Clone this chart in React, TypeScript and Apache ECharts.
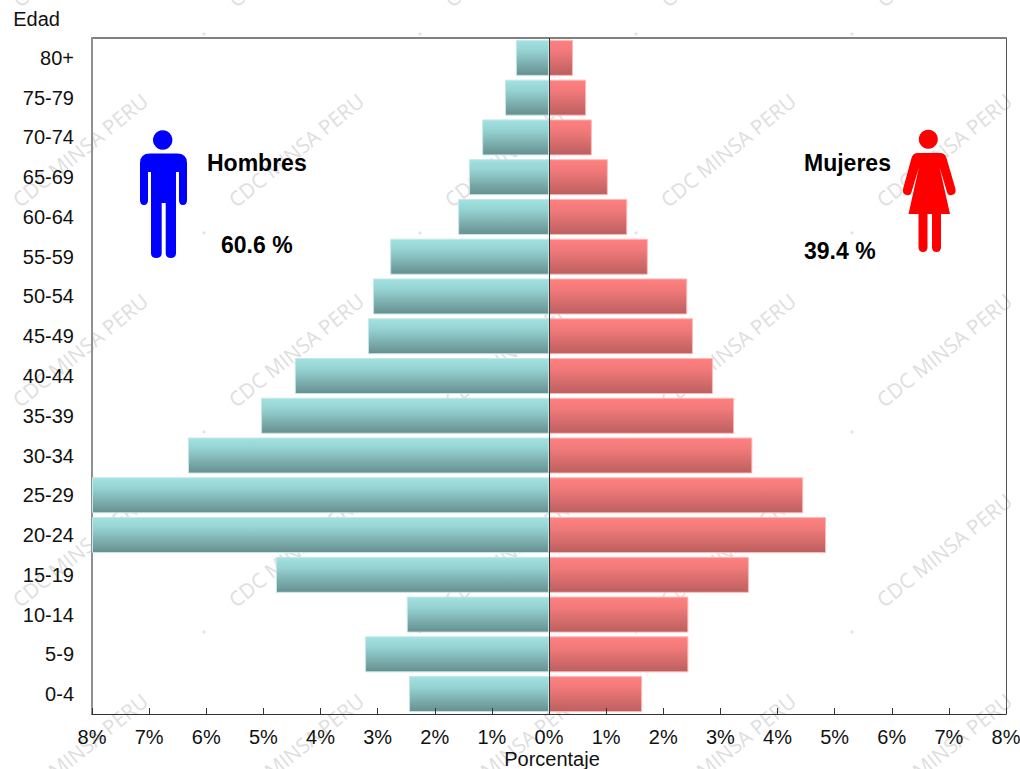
import React, { useEffect, useRef } from "react";
import * as echarts from "echarts";

const categories = ["0-4","5-9","10-14","15-19","20-24","25-29","30-34","35-39","40-44","45-49","50-54","55-59","60-64","65-69","70-74","75-79","80+"];
const hombres = [2.45,3.22,2.49,4.78,8,8,6.32,5.04,4.45,3.17,3.08,2.78,1.59,1.40,1.17,0.77,0.58];
const mujeres = [1.63,2.44,2.44,3.50,4.85,4.45,3.56,3.24,2.87,2.52,2.42,1.73,1.37,1.03,0.75,0.65,0.42];
const watermarkCols = [80,296,512,728,944];
const watermarkRows = [-50,150,350,550,750];
const dotCols = [204,420,636,852];
const dotRows = [34,233,432,632];

const maleD = "M150 153.5 L177 153.5 Q187 153.5 187 163 L187 200 Q187 205 183 205 Q179 205 179 200 L179 172 L176 172 L176 253 Q176 258 170.8 258 Q165.7 258 165.7 253 L165.7 203 L161.7 203 L161.7 253 Q161.7 258 156.2 258 Q151 258 151 253 L151 172 L148 172 L148 200 Q148 205 144 205 Q140 205 140 200 L140 163 Q140 153.5 150 153.5 Z";
const femaleD = "M918 153 L940 153 Q945 153 946.5 158 L955.5 189 Q956.5 194 952 195 Q948 196 947 192 L939.5 167 L950 214 L941 214 L941 247 Q941 252 936.5 252 Q932 252 932 247 L932 214 L927.5 214 L927.5 247 Q927.5 252 923 252 Q918.5 252 918.5 247 L918.5 214 L908.5 214 L919 167 L911.5 192 Q910.5 196 906.5 195 Q902 194 903 189 L911.5 158 Q913 153 918 153 Z";
echarts.graphic.registerShape("maleFig", echarts.graphic.extendPath(maleD, {}));
echarts.graphic.registerShape("femaleFig", echarts.graphic.extendPath(femaleD, {}));

const FONT = "Liberation Sans, Arial, sans-serif";
const grad = (a: string, m: string, b: string) => new echarts.graphic.LinearGradient(0, 0, 0, 1, [
  { offset: 0, color: a }, { offset: 0.3, color: m }, { offset: 1, color: b },
]);

const boldText = (text: string, x: number, y: number) => ({
  type: "text", x, y, z: 10,
  style: { text, font: `bold 23px ${FONT}`, fill: "#000", verticalAlign: "middle", align: "left" },
});

export default function App() {
  const ref = useRef<HTMLDivElement>(null);
  useEffect(() => {
    document.body.style.background = "#fff";
    const chart = echarts.init(ref.current!, undefined, { renderer: "svg" });
    const marks: any[] = [];
    watermarkCols.forEach((x) => watermarkRows.forEach((y) => marks.push({
      type: "text", x, y, rotation: 0.68, z: -1, silent: true,
      style: { text: "CDC MINSA PERU", font: `20.5px "Open Sans", sans-serif`, fill: "#dedede", align: "center", verticalAlign: "middle" },
    })));
    dotCols.forEach((x) => dotRows.forEach((y) => marks.push({
      type: "circle", z: -1, silent: true, shape: { cx: x, cy: y, r: 1.6 }, style: { fill: "#e3e3e3" },
    })));
    marks.push(
      { type: "maleFig", x: 0, y: 0, z: 10, style: { fill: "#0000ff" } },
      { type: "circle", z: 10, shape: { cx: 162.7, cy: 140, r: 9.7 }, style: { fill: "#0000ff" } },
      { type: "femaleFig", x: 0, y: 0, z: 10, style: { fill: "#ff0000" } },
      { type: "circle", z: 10, shape: { cx: 928.3, cy: 139.3, r: 9.5 }, style: { fill: "#ff0000" } },
      boldText("Hombres", 207, 163),
      boldText("60.6 %", 221, 245),
      boldText("Mujeres", 804, 163),
      boldText("39.4 %", 804, 251),
    );
    const hidden = { show: false };
    chart.setOption({
      animation: false,
      backgroundColor: "#fff",
      textStyle: { fontFamily: FONT },
      grid: { left: 92, top: 38, width: 914, height: 676, show: false, outerBoundsMode: "none" },
      graphic: { elements: marks },
      xAxis: [
        {
          type: "value", min: -8, max: 8, interval: 1, position: "bottom", z: 6,
          name: "Porcentaje", nameLocation: "middle", nameGap: 35, nameMoveOverlap: false,
          nameTextStyle: { color: "#111", fontSize: 20, fontFamily: FONT, padding: [0, 0, 0, 6] },
          axisLine: { show: true, onZero: false, lineStyle: { color: "#333", width: 1 } },
          axisTick: { show: true, inside: true, length: 6, lineStyle: { color: "#333", width: 1 } },
          axisLabel: { color: "#111", fontSize: 20, margin: 13, fontFamily: FONT, showMinLabel: true, showMaxLabel: true, hideOverlap: false, formatter: (v: number) => `${Math.abs(v)}%` },
          splitLine: hidden,
        },
        {
          type: "value", min: -8, max: 8, interval: 1, position: "top",
          axisLine: { show: true, onZero: false, lineStyle: { color: "#808080", width: 2 } },
          axisTick: hidden, axisLabel: hidden, splitLine: hidden,
        },
      ],
      yAxis: [
        {
          type: "category", data: categories, position: "left", z: 1,
          name: "Edad", nameLocation: "end", nameGap: 9,
          nameTextStyle: { color: "#111", fontSize: 20, fontFamily: FONT, align: "right", verticalAlign: "bottom", padding: [0, 32, 0, 0] },
          axisLine: { show: true, onZero: false, lineStyle: { color: "#909090", width: 2 } },
          axisTick: hidden,
          axisLabel: { color: "#111", fontSize: 20, margin: 18, fontFamily: FONT, interval: 0 },
          splitLine: hidden,
        },
        {
          type: "category", data: categories, position: "right", offset: 0,
          axisLine: { show: true, onZero: false, lineStyle: { color: "#555", width: 1 } },
          axisTick: hidden, axisLabel: hidden, splitLine: hidden,
        },
      ],
      series: [
        {
          type: "bar", name: "Hombres", data: hombres.map((v) => -v), barWidth: 36, barGap: "-100%", z: 2,
          itemStyle: { color: grad("#a2e2e2", "#96d2d2", "#668f8f"), borderColor: "#c6e6e6", borderWidth: 1 },
          markLine: {
            silent: true, symbol: "none", label: hidden, z: 8, animation: false,
            lineStyle: { color: "#2a3a3a", width: 1, type: "solid" }, data: [{ xAxis: 0 }],
          },
        },
        {
          type: "bar", name: "Mujeres", data: mujeres, barWidth: 36, barGap: "-100%", z: 2,
          itemStyle: { color: grad("#ff8080", "#f27a7a", "#bc5f5f"), borderColor: "#ffb8b8", borderWidth: 1 },
        },
      ],
    });
    return () => chart.dispose();
  }, []);
  return <div ref={ref} style={{ position: "absolute", left: 0, top: 0, width: 1020, height: 769 }} />;
}
